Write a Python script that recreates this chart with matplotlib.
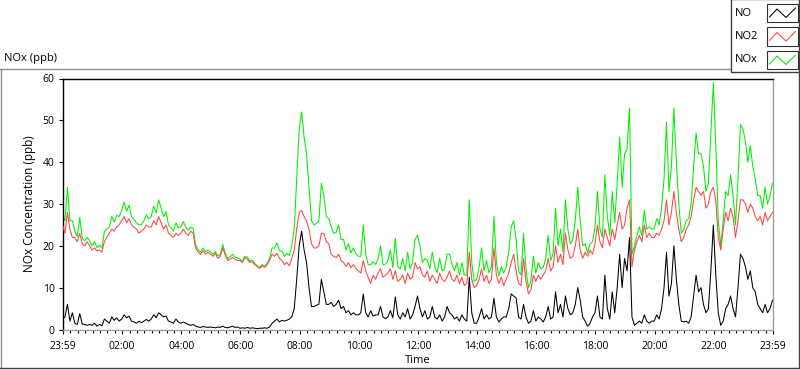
import numpy as np
import matplotlib
matplotlib.use('Agg')
import matplotlib.pyplot as plt
from matplotlib.patches import Rectangle

plt.rcParams['font.family'] = ['Open Sans', 'DejaVu Sans']

# ---------------- data (5-minute samples, hours counted from 23:59) ----------------
step_minutes = 5

no_ppb = [
    2.5, 3, 6, 2, 4, 1.5, 1.2, 3.8, 1.3, 1.2, 1.0, 1.2,
    1.0, 1.5, 0.8, 1.2, 0.9, 2.5, 2.0, 1.5, 3.0, 2.2, 2.8, 2.0,
    2.5, 3.5, 2.8, 3.2, 2.0, 1.8, 1.5, 2.0, 1.6, 2.0, 2.4, 2.0,
    2.5, 3.5, 2.8, 4.0, 3.5, 3.0, 3.2, 2.0, 1.8, 1.5, 2.5, 1.8,
    1.5, 1.8, 1.5, 1.2, 1.0, 1.2, 0.8, 0.6, 0.5, 0.7, 0.6, 0.5,
    0.6, 0.5, 0.4, 0.6, 0.5, 0.8, 0.5, 0.4, 0.6, 0.8, 0.5, 0.6,
    0.3, 0.4, 0.3, 0.5, 0.3, 0.4, 0.3, 0.2, 0.3, 0.3, 0.4, 0.3,
    0.6, 1.5, 2.0, 2.5, 1.8, 2.2, 2.0, 2.2, 2.5, 3.0, 5.0, 12,
    20, 23.5, 19, 16, 10, 5.5, 5.5, 5.8, 6, 12, 9, 6,
    6, 6.5, 5.5, 6, 7, 5, 5.5, 4, 4.5, 3.5, 4, 3.5,
    3.5, 4, 8.5, 4, 3, 4.5, 3.2, 3.5, 3.5, 5.5, 3, 2.6,
    3, 4.5, 2.8, 7.8, 3.5, 2.5, 4, 3, 5, 2.5, 3.5, 5.5,
    8, 5, 3, 4.5, 2.5, 3, 5.5, 3, 2.5, 3.5, 2, 3,
    5.5, 4, 3.5, 2.5, 3, 2, 3.5, 2.5, 2, 12.5, 4, 1.5,
    1.5, 3, 5, 2.5, 3.5, 2.5, 3, 7.5, 3, 1.8, 2.5, 3,
    3, 5, 8.5, 8, 7.5, 3, 2.5, 6, 3, 1.5, 2, 4.5,
    2, 3, 2.5, 1.8, 3, 5.5, 2.5, 3, 9, 4, 6, 3,
    8, 5, 3.5, 4, 6, 10, 7, 3, 2, 0.8, 1.5, 3,
    4, 8, 3, 2.5, 13, 5, 2.5, 9, 4, 10, 18, 10,
    17, 14, 22, 3, 1, 1.5, 2, 1.5, 3.5, 2, 1.5, 2,
    2, 3.5, 2.5, 5, 10, 18.5, 8, 11, 20, 12, 6, 2,
    1.8, 2, 1.5, 3, 8, 13, 9, 10, 6, 4, 5, 14,
    25, 13, 4, 1, 2, 5, 6, 8, 5, 3, 10, 18,
    17, 15, 12, 14, 10, 9, 6, 5, 4, 6, 4, 5, 7,
]

no2_ppb = [
    25, 23, 28, 24, 22, 22, 21, 23, 20.5, 20, 21, 20,
    19, 19.5, 18.8, 19, 18.5, 21, 22, 23, 24, 23.5, 24.5, 25,
    26, 27, 25.5, 26.5, 25, 24.5, 24, 23, 23.5, 24, 25, 24.5,
    24.5, 26, 25, 27, 25.5, 24, 25, 23, 22.5, 22, 23, 22.5,
    23, 24, 23, 22.5, 23.5, 23, 19.5, 18.5, 18, 18.8, 18, 18.5,
    18, 17.5, 18.2, 17, 17.5, 19.5, 17.8, 16.5, 16.8, 17.2, 16.8, 16.5,
    16.5, 16, 17.2, 16.8, 16, 16.2, 15.5, 15, 14.6, 15.2, 14.8, 15.5,
    16.5, 18, 17.5, 18.2, 17, 16.5, 15.5, 16, 15.2, 17, 19, 24,
    28, 28.5, 27, 26, 24, 20.5, 19.5, 19.5, 20, 23, 23, 21,
    20.5, 18, 17.5, 17.2, 18, 16.5, 16, 15, 16, 14.8, 15.5, 14.6,
    14, 13.5, 16.5, 14, 12.5, 11, 13, 12, 13.5, 14.5, 12.5, 13,
    13.5, 14.5, 12, 14, 11.5, 12, 13, 11, 13.5, 12, 12.5, 16,
    14.5, 15, 13, 12.5, 14, 11.5, 13, 12, 11, 13.5, 12, 11.5,
    12.5, 14, 12, 11.5, 13, 11, 12.5, 10.5, 11, 18.5, 12, 10,
    10.5, 12, 14.5, 11.5, 13, 11, 12, 19.5, 13, 11, 12.5, 10.5,
    12, 13.5, 16, 18, 14, 11, 10.5, 17, 11.5, 8.5, 9.5, 13,
    11.5, 13, 12, 13, 14, 17, 14, 15, 20, 16, 18, 15.5,
    23, 19, 17, 17.5, 20, 24, 19, 17, 18.5, 17.5, 19, 18,
    20.5, 25, 21, 19.5, 24, 22, 20, 24, 21.5, 25, 28, 24,
    25, 29, 31, 15, 19, 21, 22.5, 21, 25, 22, 23, 22,
    22, 23, 22.5, 24, 26, 31, 25, 28, 33, 28, 24, 21,
    22, 24, 25, 27, 31, 34, 33, 32, 33, 29, 30, 33,
    34, 31, 22, 19, 24, 28, 26, 29, 27, 22, 26, 31,
    31, 30, 28, 30, 29, 27, 26, 27, 25, 28, 26, 27, 28,
]

nox_ppb = [
    27.5, 26, 34, 26, 26, 23.5, 22.2, 26.8, 21.8, 21.2, 22, 21.2,
    20, 21, 19.6, 20.2, 19.4, 23.5, 24, 24.5, 27, 25.7, 27.3, 27,
    28.5, 30.5, 28.3, 29.7, 27, 26.3, 25.5, 25, 25.1, 26, 27.4, 26.5,
    27, 29.5, 27.8, 31, 29, 27, 28.2, 25, 24.3, 23.5, 25.5, 24.3,
    24.5, 25.8, 24.5, 23.7, 24.5, 24.2, 20.3, 19.1, 18.5, 19.5, 18.6, 19,
    18.6, 18, 18.6, 17.6, 18, 20.3, 18.3, 16.9, 17.4, 18, 17.3, 17.1,
    16.8, 16.4, 17.5, 17.3, 16.3, 16.6, 15.8, 15.2, 14.9, 15.5, 15.2, 15.8,
    17.1, 19.5, 19.5, 20.7, 18.8, 18.7, 17.5, 18.2, 17.7, 20, 24, 36,
    48, 52, 46, 42, 34, 26, 25, 25.3, 26, 35, 32, 27,
    26.5, 24.5, 23, 23.2, 25, 21.5, 21.5, 19, 20.5, 18.3, 19.5, 18.1,
    17.5, 17.5, 25, 18, 15.5, 15.5, 16.2, 15.5, 17, 20, 15.5, 15.6,
    16.5, 19, 14.8, 21.8, 15, 14.5, 17, 14, 18.5, 14.5, 16, 21.5,
    22.5, 20, 16, 17, 16.5, 14.5, 18.5, 15, 13.5, 17, 14, 14.5,
    18, 18, 15.5, 14, 16, 13, 16, 13, 13, 31, 16, 11.5,
    12, 15, 19.5, 14, 16.5, 13.5, 15, 27, 16, 12.8, 15, 13.5,
    15, 18.5, 24.5, 26, 21.5, 14, 13, 23, 14.5, 10, 11.5, 17.5,
    13.5, 16, 14.5, 14.8, 17, 22.5, 16.5, 18, 29, 20, 24, 18.5,
    31, 24, 20.5, 21.5, 26, 34, 26, 20, 20.5, 18.3, 20.5, 21,
    24.5, 33, 24, 22, 37, 27, 22.5, 33, 25.5, 35, 46, 34,
    42, 43, 53, 18, 20, 22.5, 24.5, 22.5, 28.5, 24, 24.5, 24,
    24, 26.5, 25, 29, 36, 49.5, 33, 39, 53, 40, 30, 23,
    23.8, 26, 26.5, 30, 39, 47, 42, 42, 39, 33, 35, 47,
    59, 44, 26, 20, 26, 33, 32, 37, 32, 25, 36, 49,
    48, 45, 40, 44, 39, 36, 32, 32, 29, 34, 30, 32, 35,
]

series_names = ['NO', 'NO2', 'NOx']
series_colors = ['#000000', '#FF4444', '#00F000']

major_tick_labels = ['23:59', '02:00', '04:00', '06:00', '08:00', '10:00',
                     '12:00', '14:00', '16:00', '18:00', '20:00', '22:00', '23:59']
major_tick_hours = [0] + [h + 1 / 60 for h in range(2, 24, 2)] + [24]
minor_tick_hours = [k * 0.25 + 1 / 60 for k in range(1, 96)]

y_ticks = [0, 10, 20, 30, 40, 50, 60]

# ---------------- figure ----------------
W, H = 800, 369
fig = plt.figure(figsize=(W / 100, H / 100), dpi=100)
fig.patch.set_facecolor('white')

# overlay in pixel coordinates (frame, title, legend)
ov = fig.add_axes([0, 0, 1, 1])
ov.set_xlim(0, W)
ov.set_ylim(H, 0)
ov.axis('off')
ov.set_zorder(0)

# outer frame
ov.plot([0.5, 0.5], [68.5, 368], color='#909090', lw=1)
ov.plot([0, 731], [68.5, 68.5], color='#909090', lw=1)
ov.plot([0, 799], [367.5, 367.5], color='#404040', lw=1)
ov.plot([798.5, 798.5], [72, 368], color='#404040', lw=1)

ov.text(4, 58.5, 'NOx (ppb)', fontsize=8, va='center', ha='left')

# legend box
ov.add_patch(Rectangle((730.5, -1), 68.5, 73, facecolor='white',
                       edgecolor='#404040', lw=1, zorder=3))
for i, (name, col) in enumerate(zip(series_names, series_colors)):
    y0 = 3.5 + i * 23.5
    ov.text(735, y0 + 9.5, name, fontsize=8, va='center', ha='left', zorder=4)
    ov.add_patch(Rectangle((767, y0), 31, 18.5, facecolor='white',
                           edgecolor='#303030', lw=0.8, zorder=4))
    zx = [769.5, 777, 786, 795.5]
    zy = [y0 + 13.5, y0 + 5.5, y0 + 14, y0 + 4.5]
    ov.plot(zx, zy, color=col, lw=0.75, zorder=5)

# main axes
L, R, T, B = 62.5, 772.5, 78.5, 329.5
ax = fig.add_axes([L / W, 1 - B / H, (R - L) / W, (B - T) / H])
ax.set_zorder(2)
ax.set_facecolor('white')

t_hours = np.arange(len(no_ppb)) * step_minutes / 60.0

ax.plot(t_hours, nox_ppb, color=series_colors[2], lw=0.75, zorder=2)
ax.plot(t_hours, no2_ppb, color=series_colors[1], lw=0.75, zorder=3)
ax.plot(t_hours, no_ppb, color=series_colors[0], lw=0.75, zorder=4)

ax.set_xlim(0, 24)
ax.set_ylim(0, 60)

ax.set_xticks(major_tick_hours)
ax.set_xticklabels(major_tick_labels)
ax.set_xticks(minor_tick_hours, minor=True)
ax.set_yticks(y_ticks)
ax.set_yticklabels([str(v) for v in y_ticks])

ax.tick_params(axis='both', which='major', direction='out', length=3.2,
               width=0.8, labelsize=7.5, color='black', pad=2.5)
ax.tick_params(axis='x', which='minor', direction='out', length=2.2,
               width=0.8, color='black')
ax.tick_params(axis='x', which='major', pad=5)

for s in ['left', 'top']:
    ax.spines[s].set_color('black')
    ax.spines[s].set_linewidth(1)
for s in ['right', 'bottom']:
    ax.spines[s].set_color('#A0A0A0')
    ax.spines[s].set_linewidth(1)

ax.set_ylabel('NOx Concentration (ppb)', fontsize=8.5, labelpad=5)
ax.set_xlabel('Time', fontsize=8, labelpad=2)

fig.savefig('out.png', dpi=100, facecolor='white')
